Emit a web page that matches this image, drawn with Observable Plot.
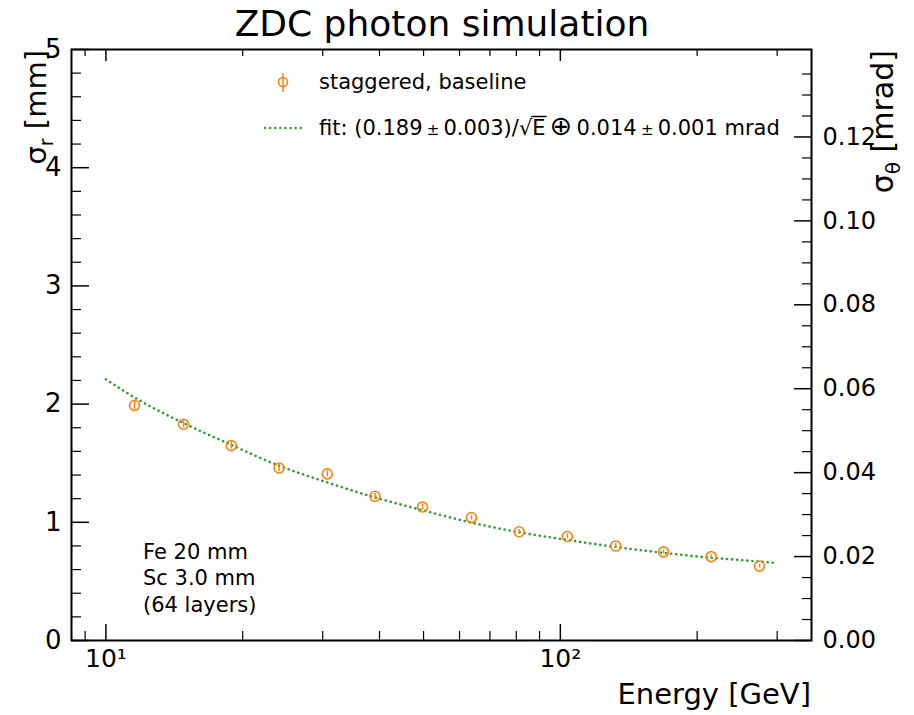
<!DOCTYPE html>
<html><head><meta charset="utf-8">
<script src="https://cdn.jsdelivr.net/npm/d3@7"></script>
<script src="https://cdn.jsdelivr.net/npm/@observablehq/plot@0.6"></script>
<style>
body{margin:0;background:#fff;}
#chart{width:914px;height:715px;}
</style></head><body><div id="chart"></div>
<script>
// ---- data ----
const energy   = [11.56, 14.82, 18.87, 24.05, 30.71, 39.09, 49.74, 63.74, 81.15, 103.6, 132.4, 168.7, 214.7, 274.3];
const sigmaR   = [1.99, 1.83, 1.65, 1.46, 1.41, 1.22, 1.13, 1.04, 0.92, 0.88, 0.80, 0.75, 0.71, 0.63];
const sigmaErr = [0.035, 0.03, 0.03, 0.03, 0.025, 0.025, 0.025, 0.02, 0.02, 0.02, 0.02, 0.015, 0.015, 0.015];
const fitEnergy = [10, 12, 15, 19, 24, 30, 40, 50, 65, 80, 100, 130, 170, 215, 260, 300];
const fitSigmaR = [2.21, 2.02, 1.83, 1.65, 1.48, 1.35, 1.20, 1.10, 0.99, 0.92, 0.86, 0.795, 0.74, 0.70, 0.675, 0.655];
const yMajor = [0, 1, 2, 3, 4, 5];
const thetaMajor = [0.00, 0.02, 0.04, 0.06, 0.08, 0.10, 0.12];
const xMajor = [10, 100];
const xMinor = [9, 20, 30, 40, 50, 60, 70, 80, 90, 200, 300];
const xTickLabels = ["10\u00B9", "10\u00B2"];
const mmPerMrad = 35.5; // right axis conversion (sigma_theta = sigma_r / distance)

const yMinor = d3.range(0, 5.001, 0.2).filter(v => Math.abs(v - Math.round(v)) > 1e-6);
const thetaMinor = d3.range(0, 0.1401, 0.005).filter(v => Math.abs(v / 0.02 - Math.round(v / 0.02)) > 1e-6);

const FONT = '"DejaVu Sans", "Liberation Sans", sans-serif';
const ORANGE = "#ff7f0e", GREEN = "#2ca02c";
const W = 914, H = 715, mL = 71, mR = 103, mT = 49, mB = 75;
const pw = W - mL - mR, ph = H - mT - mB;

const points = energy.map((e, i) => ({e, s: sigmaR[i], lo: sigmaR[i] - sigmaErr[i], hi: sigmaR[i] + sigmaErr[i]}));
const fit = fitEnergy.map((e, i) => ({e, s: fitSigmaR[i]}));

const plot = Plot.plot({
  width: W, height: H,
  marginLeft: mL, marginRight: mR, marginTop: mT, marginBottom: mB,
  style: {fontFamily: FONT, color: "#000", background: "#fff", overflow: "visible"},
  x: {type: "log", domain: [8.4, 357]},
  y: {domain: [0, 5]},
  marks: [
    // inward ticks
    Plot.tickY(yMajor, {y: d => d, insetRight: pw - 18, stroke: "#000", strokeWidth: 1.5}),
    Plot.tickY(yMinor, {y: d => d, insetRight: pw - 10, stroke: "#000", strokeWidth: 1.2}),
    Plot.tickY(thetaMajor, {y: d => d * mmPerMrad, insetLeft: pw - 17, stroke: "#000", strokeWidth: 1.5}),
    Plot.tickY(thetaMinor, {y: d => d * mmPerMrad, insetLeft: pw - 9, stroke: "#000", strokeWidth: 1.2}),
    Plot.tickX(xMajor, {x: d => d, insetTop: ph - 16, stroke: "#000", strokeWidth: 1.5}),
    Plot.tickX(xMinor, {x: d => d, insetTop: ph - 9, stroke: "#000", strokeWidth: 1.2}),
    Plot.tickX(xMajor, {x: d => d, insetBottom: ph - 12, stroke: "#000", strokeWidth: 1.5}),
    Plot.tickX(xMinor, {x: d => d, insetBottom: ph - 7, stroke: "#000", strokeWidth: 1.2}),
    // tick labels
    Plot.axisY(yMajor, {anchor: "left", tickSize: 0, tickPadding: 10, label: null, fontSize: 26, tickFormat: d => String(d)}),
    Plot.axisY(thetaMajor.map(v => v * mmPerMrad), {anchor: "right", tickSize: 0, tickPadding: 11, label: null, fontSize: 24,
      tickFormat: d => (d / mmPerMrad).toFixed(2)}),
    Plot.axisX(xMajor, {anchor: "bottom", tickSize: 0, tickPadding: 9, label: null, fontSize: 25,
      tickFormat: d => xTickLabels[xMajor.indexOf(d)]}),
    // data
    Plot.line(fit, {x: "e", y: "s", stroke: GREEN, strokeWidth: 2.6, strokeDasharray: "0.1 5", strokeLinecap: "round", curve: "monotone-x"}),
    Plot.ruleX(points, {x: "e", y1: "lo", y2: "hi", stroke: ORANGE, strokeWidth: 1.5}),
    Plot.dot(points, {x: "e", y: "s", r: 5, stroke: ORANGE, strokeWidth: 1.6, fill: "none"}),
    Plot.frame({stroke: "#000", strokeWidth: 2})
  ]
});
document.getElementById("chart").appendChild(plot);

// ---- text decorations: title, axis titles, legend, annotation ----
const svg = d3.select(plot);
const g = svg.append("g").attr("font-family", FONT).attr("fill", "#000").attr("text-anchor", "start");

g.append("text").attr("x", 442).attr("y", 36).attr("text-anchor", "middle").attr("font-size", 36)
  .text("ZDC photon simulation");

g.append("text").attr("x", W - mR).attr("y", 704).attr("text-anchor", "end").attr("font-size", 29)
  .text("Energy [GeV]");

const yl = g.append("text").attr("transform", "translate(46,50) rotate(-90)").attr("text-anchor", "end").attr("font-size", 29);
yl.append("tspan").text("\u03C3");
yl.append("tspan").attr("font-size", 19).attr("dy", 7).text("r");
yl.append("tspan").attr("dy", -7).text(" [mm]");

const yr = g.append("text").attr("transform", "translate(893,50) rotate(-90)").attr("text-anchor", "end").attr("font-size", 30);
yr.append("tspan").text("\u03C3");
yr.append("tspan").attr("font-size", 20).attr("dy", 7).text("\u03B8");
yr.append("tspan").attr("dy", -7).text(" [mrad]");

// legend entry 1
g.append("circle").attr("cx", 283).attr("cy", 82).attr("r", 4.5).attr("fill", "#fff").attr("stroke", ORANGE).attr("stroke-width", 1.6);
g.append("line").attr("x1", 283).attr("x2", 283).attr("y1", 73).attr("y2", 92).attr("stroke", ORANGE).attr("stroke-width", 1.5);
g.append("text").attr("x", 319).attr("y", 89).attr("font-size", 21).text("staggered, baseline");

// legend entry 2
g.append("line").attr("x1", 265).attr("x2", 303).attr("y1", 128).attr("y2", 128)
  .attr("stroke", GREEN).attr("stroke-width", 2.4).attr("stroke-dasharray", "0.1 5").attr("stroke-linecap", "round");
const ft = g.append("text").attr("x", 319).attr("y", 135).attr("font-size", 21);
const TS = "\u2009";
const parts = [
  ["fit: (0.189" + TS, null], ["\u00B1", 15], [TS + "0.003)/\u221A", null], ["E", null], [TS, null],
  ["\u2295", 27], [TS + "0.014" + TS, null], ["\u00B1", 15], [TS + "0.001 mrad", null]
];
let idx = 0, eIndex = -1, sqrtIndex = -1;
parts.forEach(([t, fs]) => {
  const sp = ft.append("tspan").text(t);
  if (fs) sp.attr("font-size", fs);
  if (t === "E") eIndex = idx;
  if (t.endsWith("\u221A")) sqrtIndex = idx + t.length - 1;
  idx += t.length;
});
try {
  const node = ft.node();
  const sx = node.getEndPositionOfChar(sqrtIndex).x;
  const ex = node.getEndPositionOfChar(eIndex).x;
  g.append("line").attr("x1", sx - 1).attr("x2", ex + 1).attr("y1", 116.5).attr("y2", 116.5)
    .attr("stroke", "#000").attr("stroke-width", 1.5);
} catch (err) {}

// annotation
[["Fe 20 mm", 559], ["Sc 3.0 mm", 585], ["(64 layers)", 612]].forEach(([t, y]) =>
  g.append("text").attr("x", 143).attr("y", y).attr("font-size", 21).text(t));
</script></body></html>
